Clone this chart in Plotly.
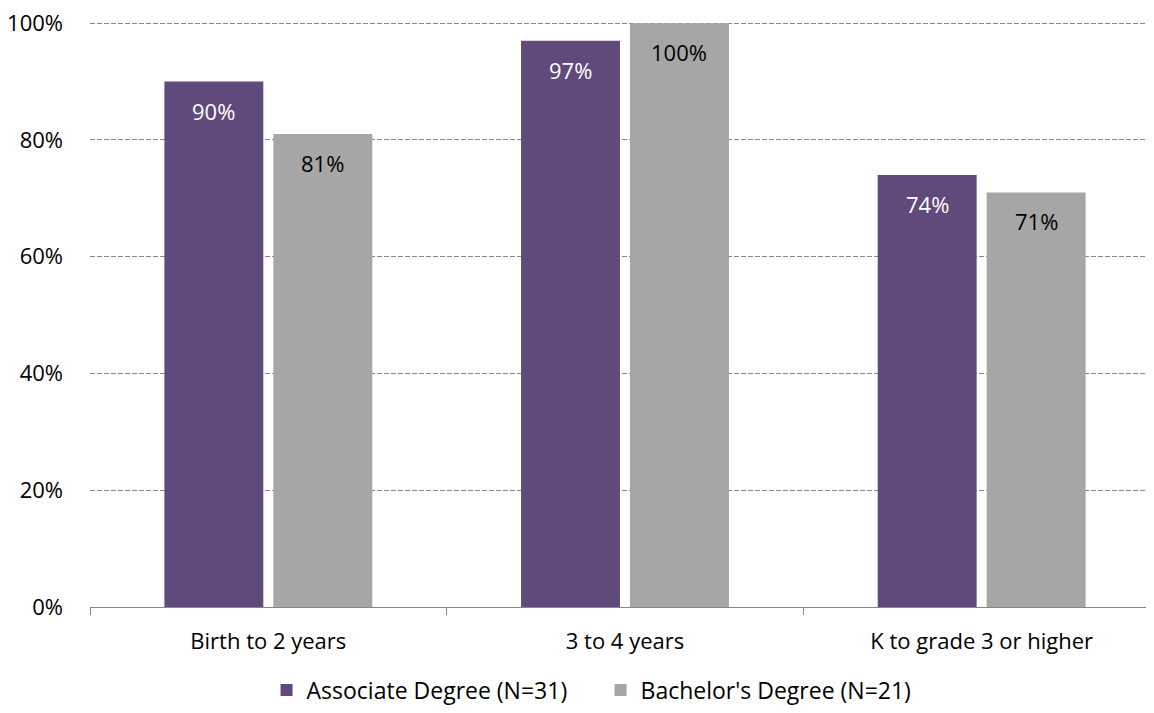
import plotly.graph_objects as go

categories = ["Birth to 2 years", "3 to 4 years", "K to grade 3 or higher"]
associate = [90, 97, 74]
bachelor = [81, 100, 71]
series_names = ["Associate Degree (N=31)", "Bachelor's Degree (N=21)"]
y_ticks = [0, 20, 40, 60, 80, 100]
y_tick_labels = ["0%", "20%", "40%", "60%", "80%", "100%"]

FONT = "Open Sans"
FS = 22

# layout constants (page body adds an 8px offset)
W, H = 1154, 713
ML, MR, MT, MB = 82, 2, 14, 114
BARGAP, GROUPGAP = 0.389, 0.092

fig = go.Figure()
fig.add_trace(go.Bar(
    name=series_names[0], x=categories, y=associate,
    marker=dict(color="#604A7B", line=dict(width=0)),
))
fig.add_trace(go.Bar(
    name=series_names[1], x=categories, y=bachelor,
    marker=dict(color="#A6A6A6", line=dict(width=0)),
))

# data labels inside bars, near the top
plot_w = W - ML - MR
slot = plot_w / len(categories) * (1 - BARGAP) / 2
for vals, sign, col in [(associate, -1, "white"), (bachelor, 1, "black")]:
    for c, v in zip(categories, vals):
        fig.add_annotation(
            x=c, y=v, xref="x", yref="y", text=f"{v}%", showarrow=False,
            xshift=sign * slot / 2, yshift=-29, yanchor="middle",
            font=dict(color=col, size=FS, family=FONT),
        )

fig.update_layout(
    width=W, height=H,
    margin=dict(l=ML, r=MR, t=MT, b=MB),
    paper_bgcolor="white", plot_bgcolor="white",
    barmode="group", bargap=BARGAP, bargroupgap=GROUPGAP,
    font=dict(family=FONT, size=FS, color="black"),
    legend=dict(orientation="h", x=0.165, xanchor="left", y=-0.142, yanchor="middle",
                font=dict(size=23, family=FONT), traceorder="normal",
                entrywidth=289, entrywidthmode="pixels"),
    showlegend=True,
)
fig.update_xaxes(
    showline=True, linecolor="#878787", linewidth=1,
    ticks="outside", tickson="boundaries", ticklen=7, tickcolor="#878787",
    showgrid=False, automargin=False, ticklabelstandoff=15,
    tickfont=dict(size=FS, family=FONT, color="black"),
)
fig.update_yaxes(
    range=[0, 100.2], tickvals=y_ticks, ticktext=y_tick_labels,
    showgrid=True, gridcolor="#888888", griddash="5px,2px", gridwidth=1,
    zeroline=False, showline=False, ticks="", ticklabelstandoff=26,
    automargin=False, ticklabeloverflow="allow",
    tickfont=dict(size=FS, family=FONT, color="black"),
)

fig.write_html("out.html")
